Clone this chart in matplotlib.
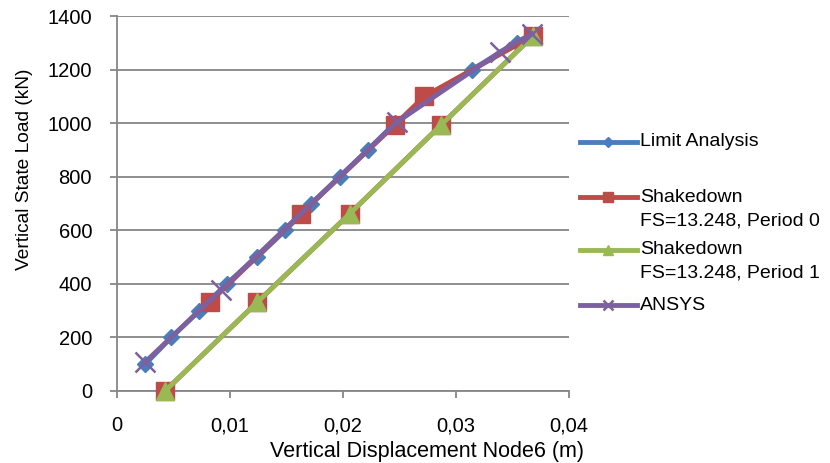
import matplotlib
matplotlib.use("Agg")
import matplotlib.pyplot as plt
from matplotlib.lines import Line2D
from matplotlib.ticker import FuncFormatter

plt.rcParams["font.family"] = ["Liberation Sans", "DejaVu Sans"]

# ---------------------------------------------------------------- data
limit_x = [0.0025, 0.0048, 0.0073, 0.0097, 0.0124, 0.0149, 0.0172, 0.0197,
           0.0222, 0.0246, 0.0314, 0.0354, 0.0368]
limit_y = [100, 200, 300, 400, 500, 600, 700, 800, 900, 1000, 1200, 1300, 1330]

# loading path then unloading path
sd0_x = [0.0082, 0.0163, 0.0246, 0.0272, 0.0368, 0.0287, 0.0206, 0.0124, 0.00425]
sd0_y = [331, 662, 994, 1100, 1325, 994, 662, 331, 0]

sd1_x = [0.00425, 0.0124, 0.0206, 0.0287, 0.0368]
sd1_y = [0, 331, 662, 994, 1325]

ansys_x = [0.0025, 0.0092, 0.0248, 0.0339, 0.0367]
ansys_y = [108, 377, 1005, 1266, 1334]

labels = ["Limit Analysis",
          "Shakedown\nFS=13.248, Period 0",
          "Shakedown\nFS=13.248, Period 1",
          "ANSYS"]

BLUE, RED, GREEN, PURPLE = "#4A7EBB", "#BE4B48", "#98B954", "#7D60A0"
GRID = "#868686"

fig = plt.figure(figsize=(8.3, 4.63), dpi=100)
ax = fig.add_axes([117 / 830, 1 - 391 / 463, (569 - 117) / 830, (391 - 16) / 463])

lw = 3.5
styles = [
    dict(color=BLUE, marker="D", ms=8.5, mfc=BLUE, mec=BLUE),
    dict(color=RED, marker="s", ms=13, mfc=RED, mec=RED),
    dict(color=GREEN, marker="^", ms=13, mfc=GREEN, mec=GREEN),
    dict(color=PURPLE, marker="x", ms=14, mew=1.8),
]
series = [(limit_x, limit_y), (sd0_x, sd0_y), (sd1_x, sd1_y), (ansys_x, ansys_y)]
for z, ((xs, ys), st) in enumerate(zip(series, styles)):
    ax.plot(xs, ys, lw=lw, zorder=3 + z, clip_on=False, **st)

ax.set_xlim(0, 0.04)
ax.set_ylim(0, 1400)
ax.set_xticks([0, 0.01, 0.02, 0.03, 0.04])
ax.set_yticks(range(0, 1401, 200))
ax.xaxis.set_major_formatter(FuncFormatter(
    lambda v, _: "0" if v == 0 else f"{v:.2f}".replace(".", ",")))
ax.grid(axis="y", color=GRID, lw=1.3)
ax.set_axisbelow(True)
for s in ("top", "right"):
    ax.spines[s].set_visible(False)
for s in ("left", "bottom"):
    ax.spines[s].set_color(GRID)
    ax.spines[s].set_linewidth(1.3)
ax.tick_params(axis="both", direction="out", length=5, width=1.3, color=GRID,
               labelsize=14.5, labelcolor="black")
ax.tick_params(axis="x", pad=13)
ax.tick_params(axis="y", pad=13)

ax.set_xlabel("Vertical Displacement Node6 (m)", fontsize=15.5)
ax.xaxis.set_label_coords((427 - 117) / 452, -0.133)
ax.set_ylabel("Vertical State Load (kN)", fontsize=13.8)
ax.yaxis.set_label_coords(-0.186, 0.592)

# legend drawn by hand (Excel aligns the handle with the first text line)
handle_y = [141.5, 197, 250, 305]
line_gap = 23.5
for y, st, lab in zip(handle_y, styles, labels):
    fy = 1 - y / 463
    fig.add_artist(Line2D([580 / 830, 637 / 830], [fy, fy], lw=lw,
                          color=st["color"], transform=fig.transFigure))
    mk = {k: v for k, v in st.items() if k != "color"}
    mk["ms"] = mk["ms"] * 0.55
    fig.add_artist(Line2D([608 / 830], [fy], lw=0, color=st["color"],
                          transform=fig.transFigure, **mk))
    for i, part in enumerate(lab.split("\n")):
        fig.text(640 / 830, 1 - (y + i * line_gap) / 463, part, fontsize=14,
                 va="center", ha="left")

fig.savefig("out.png", dpi=100)
